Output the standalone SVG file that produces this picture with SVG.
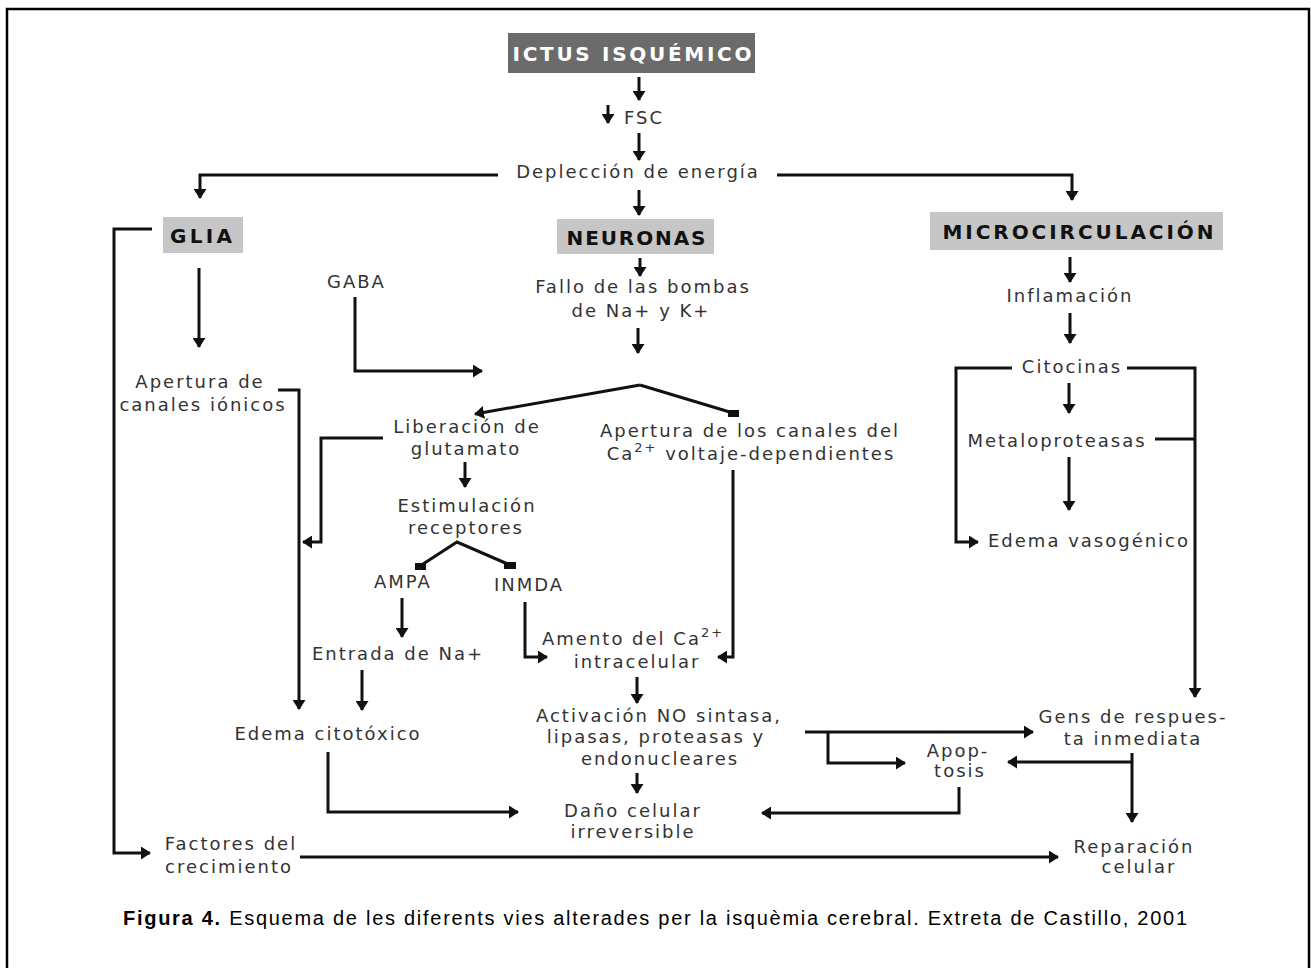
<svg xmlns="http://www.w3.org/2000/svg" width="1311" height="968" viewBox="0 0 1311 968">
<style>
.t{font-family:"DejaVu Sans",Verdana,sans-serif;font-size:18px;letter-spacing:2px;fill:#333}
.c{text-anchor:middle}
.h{font-family:"DejaVu Sans",Verdana,sans-serif;font-size:20px;font-weight:bold;text-anchor:middle;fill:#111}
.ln{fill:none;stroke:#111;stroke-width:3}
.a{marker-end:url(#ah)}
.sq{fill:#111}
.cap{font-family:"Liberation Sans",Arial,sans-serif;font-size:20px;fill:#000}
</style>
<defs>
<marker id="ah" viewBox="0 0 10 13" markerWidth="10" markerHeight="13" refX="9" refY="6.5" markerUnits="userSpaceOnUse" orient="auto">
<path d="M0,0 L10,6.5 L0,13 z" fill="#111"/>
</marker>
</defs>
<rect x="0" y="0" width="1311" height="968" fill="#fff"/>
<rect x="7" y="9" width="1302" height="980" fill="none" stroke="#000" stroke-width="2.5"/>

<g id="connectors">
<path class="ln a" d="M639,77 V100"/>
<path class="ln a" d="M608,105 V123"/>
<path class="ln a" d="M639,133 V160"/>
<path class="ln a" d="M498,175 H200 V198"/>
<path class="ln a" d="M777,175 H1072 V200"/>
<path class="ln a" d="M639,190 V215"/>
<path class="ln a" d="M640,258 V276"/>
<path class="ln a" d="M638,328 V353"/>
<path class="ln a" d="M640,385 L475,414"/>
<path class="ln" d="M640,385 L733,413"/>
<rect class="sq" x="728" y="410" width="11" height="7"/>
<path class="ln a" d="M199,268 V347"/>
<path class="ln a" d="M152,229 H114 V853 H150"/>
<path class="ln a" d="M278,390 H299 V709"/>
<path class="ln a" d="M355,297 V371 H482"/>
<path class="ln a" d="M383,438 H321 V542 H303"/>
<path class="ln a" d="M465,462 V487"/>
<path class="ln" d="M420,566 L457,542 L510,565"/>
<rect class="sq" x="415" y="563" width="11" height="7"/>
<rect class="sq" x="504" y="562" width="12" height="7"/>
<path class="ln a" d="M402,598 V637"/>
<path class="ln a" d="M362,670 V710"/>
<path class="ln a" d="M525,602 V657 H547"/>
<path class="ln a" d="M733,470 V657 H718"/>
<path class="ln a" d="M637,677 V703"/>
<path class="ln a" d="M637,773 V793"/>
<path class="ln a" d="M328,752 V812 H518"/>
<path class="ln a" d="M805,732 H1033"/>
<path class="ln a" d="M828,732 V763 H905"/>
<path class="ln a" d="M1132,753 V822"/>
<path class="ln a" d="M1132,762 H1008"/>
<path class="ln a" d="M959,787 V813 H762"/>
<path class="ln a" d="M300,857 H1058"/>
<path class="ln a" d="M1070,257 V282"/>
<path class="ln a" d="M1070,313 V343"/>
<path class="ln a" d="M1012,368 H956 V542 H978"/>
<path class="ln a" d="M1127,368 H1195 V697"/>
<path class="ln" d="M1155,439 H1195"/>
<path class="ln a" d="M1069,383 V413"/>
<path class="ln a" d="M1069,457 V510"/>
</g>

<g id="ictus">
<rect x="508" y="33" width="247" height="40" fill="#6b6b6b"/>
<text class="h" x="632" y="61" style="fill:#fff" textLength="239" lengthAdjust="spacing">ICTUS ISQUÉMICO</text>
</g>
<g id="fsc"><text class="t" x="624" y="124">FSC</text></g>
<g id="deplecion"><text class="t c" x="638" y="178">Deplección de energía</text></g>

<g id="glia">
<rect x="163" y="217" width="80" height="36" fill="#c6c6c6"/>
<text class="h" x="201" y="243" textLength="62" lengthAdjust="spacing">GLIA</text>
</g>
<g id="neuronas">
<rect x="557" y="219" width="157" height="35" fill="#c6c6c6"/>
<text class="h" x="636" y="245" textLength="139" lengthAdjust="spacing">NEURONAS</text>
</g>
<g id="microcirculacion">
<rect x="930" y="212" width="293" height="38" fill="#c6c6c6"/>
<text class="h" x="1078" y="239" textLength="271" lengthAdjust="spacing">MICROCIRCULACIÓN</text>
</g>

<g id="gaba"><text class="t" x="327" y="288">GABA</text></g>
<g id="fallo">
<text class="t c" x="643" y="293">Fallo de las bombas</text>
<text class="t c" x="641" y="317">de Na+ y K+</text>
</g>
<g id="apertura-ionicos">
<text class="t c" x="200" y="388">Apertura de</text>
<text class="t c" x="203" y="411">canales iónicos</text>
</g>
<g id="liberacion">
<text class="t c" x="467" y="433">Liberación de</text>
<text class="t c" x="466" y="455">glutamato</text>
</g>
<g id="apertura-ca">
<text class="t c" x="750" y="437">Apertura de los canales del</text>
<text class="t c" x="751" y="460">Ca<tspan dy="-8" font-size="13">2+</tspan><tspan dy="8"> voltaje-dependientes</tspan></text>
</g>
<g id="estimulacion">
<text class="t c" x="467" y="512">Estimulación</text>
<text class="t c" x="466" y="534">receptores</text>
</g>
<g id="ampa"><text class="t" x="374" y="588">AMPA</text></g>
<g id="inmda"><text class="t" x="494" y="591">INMDA</text></g>
<g id="entrada"><text class="t c" x="398" y="660">Entrada de Na+</text></g>
<g id="amento">
<text class="t" x="542" y="645">Amento del Ca<tspan dy="-8" font-size="13">2+</tspan></text>
<text class="t c" x="637" y="668">intracelular</text>
</g>
<g id="edema-cito"><text class="t c" x="328" y="740">Edema citotóxico</text></g>
<g id="activacion">
<text class="t c" x="659" y="722">Activación NO sintasa,</text>
<text class="t c" x="656" y="743">lipasas, proteasas y</text>
<text class="t c" x="660" y="765">endonucleares</text>
</g>
<g id="dano">
<text class="t c" x="633" y="817">Daño celular</text>
<text class="t c" x="633" y="838">irreversible</text>
</g>
<g id="factores">
<text class="t c" x="231" y="850">Factores del</text>
<text class="t c" x="229" y="873">crecimiento</text>
</g>
<g id="gens">
<text class="t c" x="1133" y="723">Gens de respues-</text>
<text class="t c" x="1133" y="745">ta inmediata</text>
</g>
<g id="apoptosis">
<text class="t c" x="958" y="757">Apop-</text>
<text class="t c" x="960" y="777">tosis</text>
</g>
<g id="reparacion">
<text class="t c" x="1134" y="853">Reparación</text>
<text class="t c" x="1139" y="873">celular</text>
</g>
<g id="inflamacion"><text class="t c" x="1070" y="302">Inflamación</text></g>
<g id="citocinas"><text class="t c" x="1072" y="373">Citocinas</text></g>
<g id="metaloproteasas"><text class="t c" x="1057" y="447">Metaloproteasas</text></g>
<g id="edema-vaso"><text class="t c" x="1089" y="547">Edema vasogénico</text></g>

<g id="caption">
<text class="cap" x="123" y="925" textLength="1064" lengthAdjust="spacing"><tspan font-weight="bold">Figura 4.</tspan> Esquema de les diferents vies alterades per la isquèmia cerebral. Extreta de Castillo, 2001</text>
</g>
</svg>
